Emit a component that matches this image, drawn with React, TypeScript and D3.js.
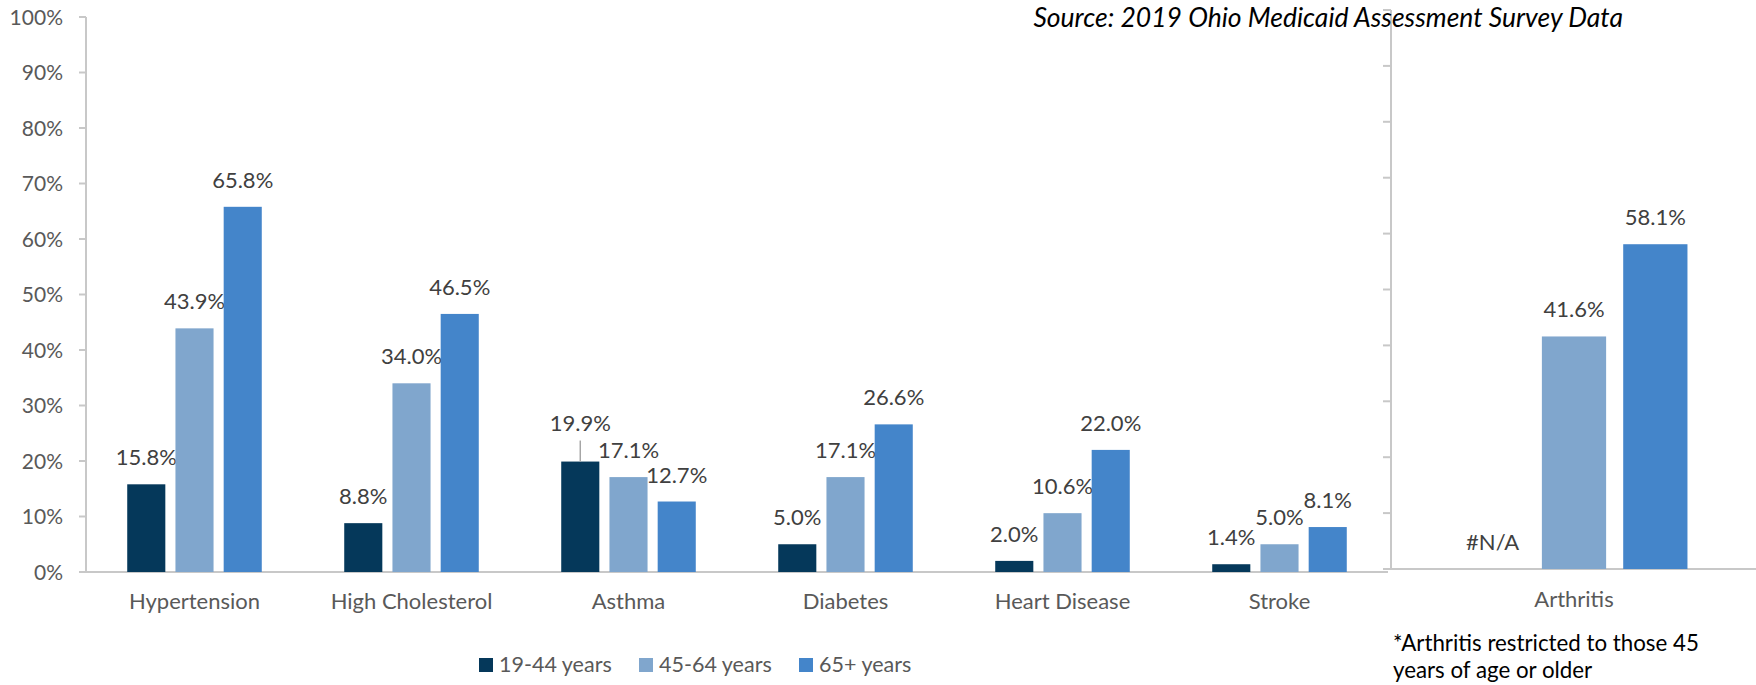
import React from "react";
import * as d3 from "d3";

const categories = ["Hypertension", "High Cholesterol", "Asthma", "Diabetes", "Heart Disease", "Stroke"];
const series = ["19-44 years", "45-64 years", "65+ years"];
const age19to44 = [15.8, 8.8, 19.9, 5.0, 2.0, 1.4];
const age45to64 = [43.9, 34.0, 17.1, 17.1, 10.6, 5.0];
const age65plus = [65.8, 46.5, 12.7, 26.6, 22.0, 8.1];
const arthritisCategory = ["Arthritis"];
const arthritisValues: (number | null)[] = [null, 41.6, 58.1];
const yTicks = [0, 10, 20, 30, 40, 50, 60, 70, 80, 90, 100];
const colors = ["#05385a", "#80a6cd", "#4485ca"];
const sourceText = "Source: 2019 Ohio Medicaid Assessment Survey Data";
const footnoteLines = ["*Arthritis restricted to those 45", "years of age or older"];

const FONT = "Lato, 'Open Sans', sans-serif";
const AXIS = "#c8c8c8";

export default function App() {
  const W = 1756, H = 685;
  const xL = d3.scaleBand<string>().domain(categories).range([86, 1388]).paddingInner(0).paddingOuter(0);
  const yL = d3.scaleLinear().domain([0, 100]).range([572, 17]);
  const xR = d3.scaleBand<string>().domain(arthritisCategory).range([1391, 1757]);
  const yR = d3.scaleLinear().domain([0, 100]).range([569, 10]);

  const seriesVals = [age19to44, age45to64, age65plus];
  const fmt = (v: number) => v.toFixed(1) + "%";

  const leftBars: any[] = [];
  categories.forEach((c, ci) => {
    const b0 = xL(c)!;
    const bw = xL.bandwidth();
    const inner = d3.scaleBand<string>().domain(series).range([b0 + bw * 0.19, b0 + bw * 0.81]).paddingInner(0.21);
    series.forEach((s, si) => {
      const v = seriesVals[si][ci];
      leftBars.push({ key: c + s, x: inner(s)!, w: inner.bandwidth(), v, color: colors[si], lifted: c === "Asthma" && si === 0 });
    });
  });

  const rb0 = xR("Arthritis")!;
  const rbw = xR.bandwidth();
  const innerR = d3.scaleBand<string>().domain(series).range([rb0 + rbw * 0.19, rb0 + rbw * 0.81]).paddingInner(0.21);

  const legendX = [479, 639, 799];

  return (
    <svg width={W} height={H} style={{ position: "absolute", left: 0, top: 0, background: "#fff" }} fontFamily={FONT}>
      <line x1={86} x2={86} y1={yL(100)} y2={yL(0)} stroke={AXIS} strokeWidth={2} />
      <line x1={86} x2={1388} y1={yL(0)} y2={yL(0)} stroke={AXIS} strokeWidth={2} />
      {yTicks.map((t) => (
        <g key={"lt" + t}>
          <line x1={79} x2={86} y1={yL(t)} y2={yL(t)} stroke={AXIS} strokeWidth={2} />
          <text x={63} y={yL(t)} dy="0.36em" textAnchor="end" fontSize={21} fill="#595959">{t}%</text>
        </g>
      ))}
      {leftBars.map((b) => (
        <g key={b.key}>
          <rect x={b.x} y={yL(b.v)} width={b.w} height={yL(0) - yL(b.v)} fill={b.color} />
          {b.lifted && (
            <line x1={b.x + b.w / 2} x2={b.x + b.w / 2} y1={yL(b.v) - 21} y2={yL(b.v)} stroke="#a6a6a6" strokeWidth={1.5} />
          )}
          <text x={b.x + b.w / 2} y={yL(b.v) - (b.lifted ? 31 : 19)} textAnchor="middle" fontSize={22} fill="#404040">{fmt(b.v)}</text>
        </g>
      ))}
      {categories.map((c) => (
        <text key={"cl" + c} x={xL(c)! + xL.bandwidth() / 2} y={609} textAnchor="middle" fontSize={22} fill="#595959">{c}</text>
      ))}

      <line x1={1391} x2={1391} y1={yR(100)} y2={yR(0)} stroke={AXIS} strokeWidth={2} />
      <line x1={1391} x2={1756} y1={yR(0)} y2={yR(0)} stroke={AXIS} strokeWidth={2} />
      {yTicks.map((t) => (
        <line key={"rt" + t} x1={1383} x2={1391} y1={yR(t)} y2={yR(t)} stroke={AXIS} strokeWidth={2} />
      ))}
      {series.map((s, si) => {
        const v = arthritisValues[si];
        const x = innerR(s)!;
        const w = innerR.bandwidth();
        if (v === null) {
          return <text key={"r" + s} x={x + w / 2} y={yR(0) - 19} textAnchor="middle" fontSize={22} fill="#404040">#N/A</text>;
        }
        return (
          <g key={"r" + s}>
            <rect x={x} y={yR(v)} width={w} height={yR(0) - yR(v)} fill={colors[si]} />
            <text x={x + w / 2} y={yR(v) - 19} textAnchor="middle" fontSize={22} fill="#404040">{fmt(v)}</text>
          </g>
        );
      })}
      <text x={rb0 + rbw / 2} y={607} textAnchor="middle" fontSize={22} fill="#595959">Arthritis</text>

      <text x={1623} y={27} textAnchor="end" fontSize={26.5} fontStyle="italic" fill="#000">{sourceText}</text>

      {footnoteLines.map((l, i) => (
        <text key={"fn" + i} x={1393} y={651 + i * 27} fontSize={22.3} fill="#000">{l}</text>
      ))}

      {series.map((s, i) => (
        <g key={"lg" + s}>
          <rect x={legendX[i]} y={658} width={14} height={14} fill={colors[i]} />
          <text x={legendX[i] + 20} y={672} fontSize={21.5} fill="#595959">{s}</text>
        </g>
      ))}
    </svg>
  );
}
